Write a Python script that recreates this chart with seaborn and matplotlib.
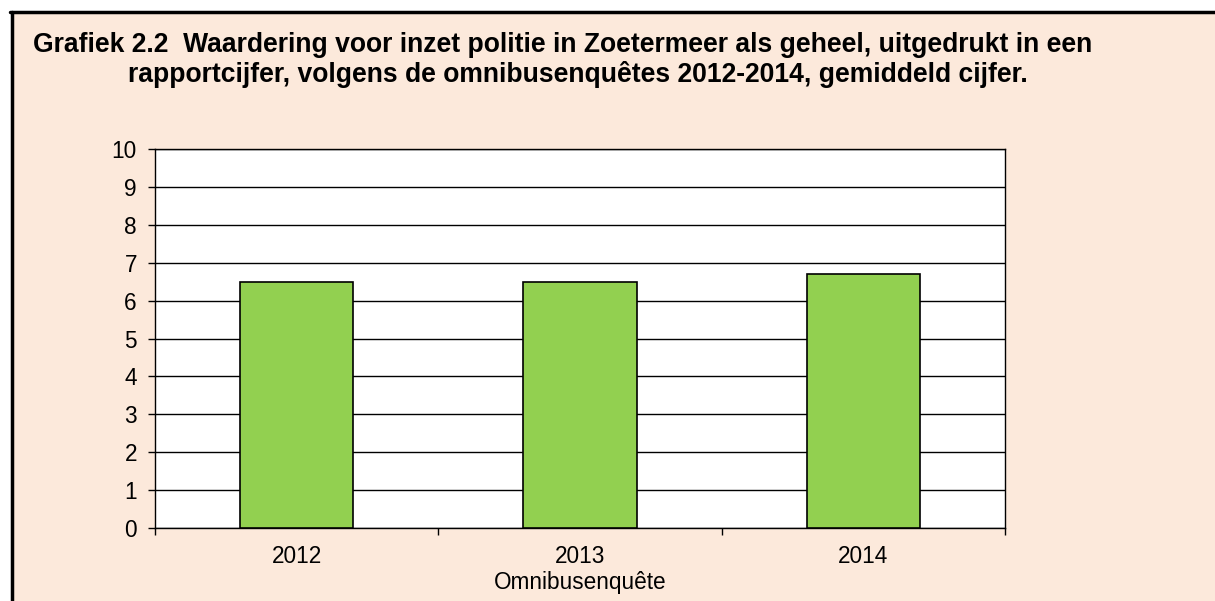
import matplotlib
matplotlib.use("Agg")
import matplotlib.pyplot as plt
import seaborn as sns
import pandas as pd
from matplotlib.patches import Rectangle
from matplotlib.lines import Line2D

years = ["2012", "2013", "2014"]
scores = [6.5, 6.5, 6.7]
yticks = list(range(0, 11))

sns.set_theme(style="white")
plt.rcParams['font.family'] = ['Liberation Sans', 'DejaVu Sans']
plt.rcParams['text.color'] = 'black'
plt.rcParams['axes.labelcolor'] = 'black'
plt.rcParams['xtick.color'] = 'black'
plt.rcParams['ytick.color'] = 'black'

W, H = 1215, 601
fig = plt.figure(figsize=(W / 100, H / 100), dpi=100)
fig.patch.set_facecolor("white")

bg = "#FCE9DB"
fig.add_artist(Rectangle((11 / W, 0), 1, 1 - 11.5 / H, transform=fig.transFigure,
                         facecolor=bg, edgecolor="none", zorder=0))
fig.add_artist(Line2D([11.5 / W, 11.5 / W], [0, 1 - 11.5 / H], transform=fig.transFigure,
                      color="black", lw=2.5, zorder=1))
fig.add_artist(Line2D([10.5 / W, 1], [1 - 11.5 / H, 1 - 11.5 / H], transform=fig.transFigure,
                      color="black", lw=2.5, zorder=1))

ax = fig.add_axes([155 / W, 1 - 528 / H, (1005 - 155) / W, (528 - 149) / H])
ax.set_facecolor("white")

df = pd.DataFrame({"jaar": years, "cijfer": scores})
sns.barplot(data=df, x="jaar", y="cijfer", color="#92D050", edgecolor="black",
            linewidth=1.2, width=0.4, saturation=1, ax=ax, zorder=3)

fs = 16.3
ax.set_ylim(0, 10)
ax.set_xlim(-0.5, 2.5)
ax.set_yticks(yticks)
ax.set_yticklabels([str(t) for t in yticks], fontsize=fs)
ax.yaxis.grid(True, color="black", linewidth=1.0, zorder=0)
ax.set_axisbelow(True)
ax.tick_params(axis="y", which="major", direction="out", length=5, width=1, color="black", left=True, pad=8)
ax.tick_params(axis="x", which="major", length=0, labelsize=fs, pad=12.5)
ax.set_xticks([-0.5, 0.5, 1.5, 2.5], minor=True)
ax.tick_params(axis="x", which="minor", direction="out", length=5, width=1, color="black", bottom=True)
for s in ax.spines.values():
    s.set_color("black")
    s.set_linewidth(1.0)
ax.set_xlabel("Omnibusenquête", fontsize=fs, labelpad=2)
ax.set_ylabel("")

fig.text(33 / W, 1 - 45 / H, "Grafiek 2.2  Waardering voor inzet politie in Zoetermeer als geheel, uitgedrukt in een",
         fontsize=19.1, fontweight="bold", va="center", ha="left")
fig.text(128 / W, 1 - 75 / H, "rapportcijfer, volgens de omnibusenquêtes 2012-2014, gemiddeld cijfer.",
         fontsize=19.1, fontweight="bold", va="center", ha="left")

fig.savefig("out.png", dpi=100)
